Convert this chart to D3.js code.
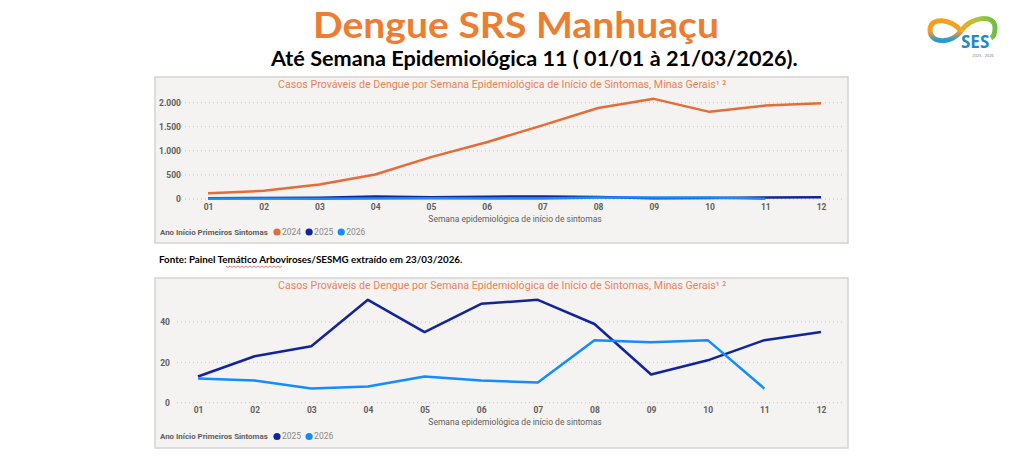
<!DOCTYPE html>
<html>
<head>
<meta charset="utf-8">
<script src="https://cdn.jsdelivr.net/npm/d3@7"></script>
<style>
  body { margin: 0; background: #fff; }
  svg { display: block; }
</style>
</head>
<body>
<script>
// donnees
var weeks = ["01","02","03","04","05","06","07","08","09","10","11","12"];
var cases2024 = [120, 170, 300, 510, 870, 1180, 1530, 1890, 2080, 1810, 1940, 1990];
var cases2025 = [13, 23, 28, 51, 35, 49, 51, 39, 14, 21, 31, 35];
var cases2026 = [12, 11, 7, 8, 13, 11, 10, 31, 30, 31, 7];
var ticksTop = [0, 500, 1000, 1500, 2000];
var ticksBottom = [0, 20, 40];

var mainTitle = "Dengue SRS Manhuaçu";
var subTitle = "Até Semana Epidemiológica 11 ( 01/01 à 21/03/2026).";
var chartTitle = "Casos Prováveis de Dengue por Semana Epidemiológica de Início de Sintomas, Minas Gerais¹ ²";
var xTitle = "Semana epidemiológica de início de sintomas";
var legendTitle = "Ano Início Primeiros Sintomas";
var fonte = "Fonte: Painel Temático Arboviroses/SESMG extraído em 23/03/2026.";

var w = 1024;
var h = 458;
var colors = { "2024": "#E66C37", "2025": "#12239E", "2026": "#118DFF" };
var pbiFont = "Roboto, 'DejaVu Sans', sans-serif";
var officeFont = "Lato, 'Open Sans', sans-serif";
var fmt = function(v) { return d3.format(",")(v).replace(/,/g, "."); };

var svg = d3.select("body").append("svg")
  .attr("width", w)
  .attr("height", h);

// ajuste la taille de police pour une largeur cible
function fit(t, target) {
  var len = t.node().getComputedTextLength();
  var fs = parseFloat(t.attr("font-size"));
  t.attr("font-size", fs * target / len);
  return t;
}

// titres
svg.append("text")
  .attr("x", 313).attr("y", 38)
  .attr("font-family", officeFont).attr("font-weight", 700)
  .attr("font-size", 36).attr("fill", "#ED7D31")
  .attr("textLength", 406).attr("lengthAdjust", "spacingAndGlyphs")
  .text(mainTitle);

fit(svg.append("text")
  .attr("x", 271).attr("y", 66)
  .attr("font-family", officeFont).attr("font-weight", 700)
  .attr("font-size", 19).attr("fill", "#000")
  .text(subTitle), 527);

// logo SES
var logo = svg.append("g");
var defs = svg.append("defs");
var g1 = defs.append("linearGradient").attr("id", "gl").attr("x1", 0).attr("y1", 0).attr("x2", 0).attr("y2", 1);
g1.append("stop").attr("offset", "0%").attr("stop-color", "#F7A11A");
g1.append("stop").attr("offset", "55%").attr("stop-color", "#F39A2B");
g1.append("stop").attr("offset", "100%").attr("stop-color", "#1E9BD7");
var g2 = defs.append("linearGradient").attr("id", "gr").attr("x1", 0).attr("y1", 0).attr("x2", 1).attr("y2", 0);
g2.append("stop").attr("offset", "0%").attr("stop-color", "#F5A623");
g2.append("stop").attr("offset", "50%").attr("stop-color", "#A8C83A");
g2.append("stop").attr("offset", "100%").attr("stop-color", "#6DBE45");
logo.append("path")
  .attr("d", "M961,31 C952,19 930,16 930,30 C930,44 952,44 961,31")
  .attr("fill", "none").attr("stroke", "url(#gl)").attr("stroke-width", 5);
logo.append("path")
  .attr("d", "M961,31 C970,17 995,13 995,28 C995,34 993,37 991,38")
  .attr("fill", "none").attr("stroke", "url(#gr)").attr("stroke-width", 5);
logo.append("text")
  .attr("x", 961).attr("y", 48)
  .attr("font-family", "'Open Sans', sans-serif").attr("font-weight", 700)
  .attr("font-size", 17).attr("fill", "#1E88C8")
  .text("SES");
logo.append("text")
  .attr("x", 983).attr("y", 57).attr("text-anchor", "middle")
  .attr("font-family", "'Open Sans', sans-serif")
  .attr("font-size", 4).attr("fill", "#777")
  .text("2023 - 2026");

// source
svg.append("text")
  .attr("x", 159).attr("y", 263)
  .attr("font-family", officeFont).attr("font-weight", 700)
  .attr("font-size", 10).attr("fill", "#000")
  .text(fonte)
  .call(function(t) { fit(t, 304); });
// soulignement ondule (correcteur)
var wave = "M226,266";
for (var i = 0; i < 14; i++) { wave += " l2,1.5 l2,-1.5"; }
svg.append("path").attr("d", wave).attr("fill", "none").attr("stroke", "#e04040").attr("stroke-width", 0.7);

// un panneau Power BI
function drawPanel(cfg) {
  var p = svg.append("g");

  p.append("rect")
    .attr("x", 155).attr("y", cfg.top)
    .attr("width", 693).attr("height", cfg.height)
    .attr("fill", "#F4F3F1")
    .attr("stroke", "#D6D4D2").attr("stroke-width", 1.5);

  fit(p.append("text")
    .attr("x", 278).attr("y", cfg.top + 11)
    .attr("font-family", pbiFont).attr("font-size", 11)
    .attr("fill", "#EE8157")
    .text(chartTitle), 449);

  var x = d3.scalePoint().domain(weeks).range(cfg.xRange);
  var y = d3.scaleLinear().domain(cfg.yDomain).range(cfg.yRange);

  // grille pointillee
  p.append("g")
    .selectAll("line")
    .data(cfg.ticks)
    .enter()
    .append("line")
    .attr("x1", 177).attr("x2", 843)
    .attr("y1", function(d) { return y(d); })
    .attr("y2", function(d) { return y(d); })
    .attr("stroke", "#C8C6C4").attr("stroke-width", 1)
    .attr("stroke-dasharray", "1,3");

  var yAxis = p.append("g")
    .attr("transform", "translate(" + cfg.yLabelX + ",0)")
    .call(d3.axisLeft(y).tickValues(cfg.ticks).tickFormat(fmt).tickSize(0).tickPadding(0));
  yAxis.select(".domain").remove();
  yAxis.selectAll("text")
    .attr("font-family", pbiFont).attr("font-size", 8.5).attr("font-weight", 700)
    .attr("fill", "#605E5C");

  var xAxis = p.append("g")
    .attr("transform", "translate(0," + cfg.xLabelY + ")")
    .call(d3.axisBottom(x).tickSize(0).tickPadding(0));
  xAxis.select(".domain").remove();
  xAxis.selectAll("text")
    .attr("dy", "0.35em")
    .attr("font-family", pbiFont).attr("font-size", 8.5).attr("font-weight", 700)
    .attr("fill", "#605E5C");

  p.append("text")
    .attr("x", 515).attr("y", cfg.xLabelY + 12)
    .attr("dy", "0.35em").attr("text-anchor", "middle")
    .attr("font-family", pbiFont).attr("font-size", 8.5)
    .attr("fill", "#605E5C")
    .text(xTitle);

  var line = d3.line()
    .x(function(d, i) { return x(weeks[i]); })
    .y(function(d) { return y(d); });

  cfg.series.forEach(function(s) {
    p.append("path")
      .datum(s.values)
      .attr("d", line)
      .attr("fill", "none")
      .attr("stroke", colors[s.name])
      .attr("stroke-width", 2.5)
      .attr("stroke-linejoin", "round");
  });

  // legende
  var ly = cfg.legendY;
  var lt = p.append("text")
    .attr("x", 160).attr("y", ly).attr("dy", "0.35em")
    .attr("font-family", pbiFont).attr("font-size", 8.5).attr("font-weight", 700)
    .attr("fill", "#605E5C")
    .text(legendTitle);
  fit(lt, 108);
  var lx = 160 + 108 + 9;
  cfg.series.forEach(function(s) {
    p.append("circle")
      .attr("cx", lx).attr("cy", ly).attr("r", 3.6)
      .attr("fill", colors[s.name]);
    var t = p.append("text")
      .attr("x", lx + 5).attr("y", ly).attr("dy", "0.35em")
      .attr("font-family", pbiFont).attr("font-size", 8.5)
      .attr("fill", "#8A8886")
      .text(s.name);
    lx += 5 + t.node().getComputedTextLength() + 8;
  });
}

drawPanel({
  top: 77, height: 166,
  xRange: [208, 821],
  yDomain: [0, 2000], yRange: [199, 102.7],
  ticks: ticksTop, yLabelX: 181,
  xLabelY: 207, legendY: 232,
  series: [
    { name: "2024", values: cases2024 },
    { name: "2025", values: cases2025 },
    { name: "2026", values: cases2026 }
  ]
});

drawPanel({
  top: 278, height: 170,
  xRange: [198, 821],
  yDomain: [0, 40], yRange: [402.7, 322],
  ticks: ticksBottom, yLabelX: 170,
  xLabelY: 410, legendY: 436.5,
  series: [
    { name: "2025", values: cases2025 },
    { name: "2026", values: cases2026 }
  ]
});
</script>
</body>
</html>
